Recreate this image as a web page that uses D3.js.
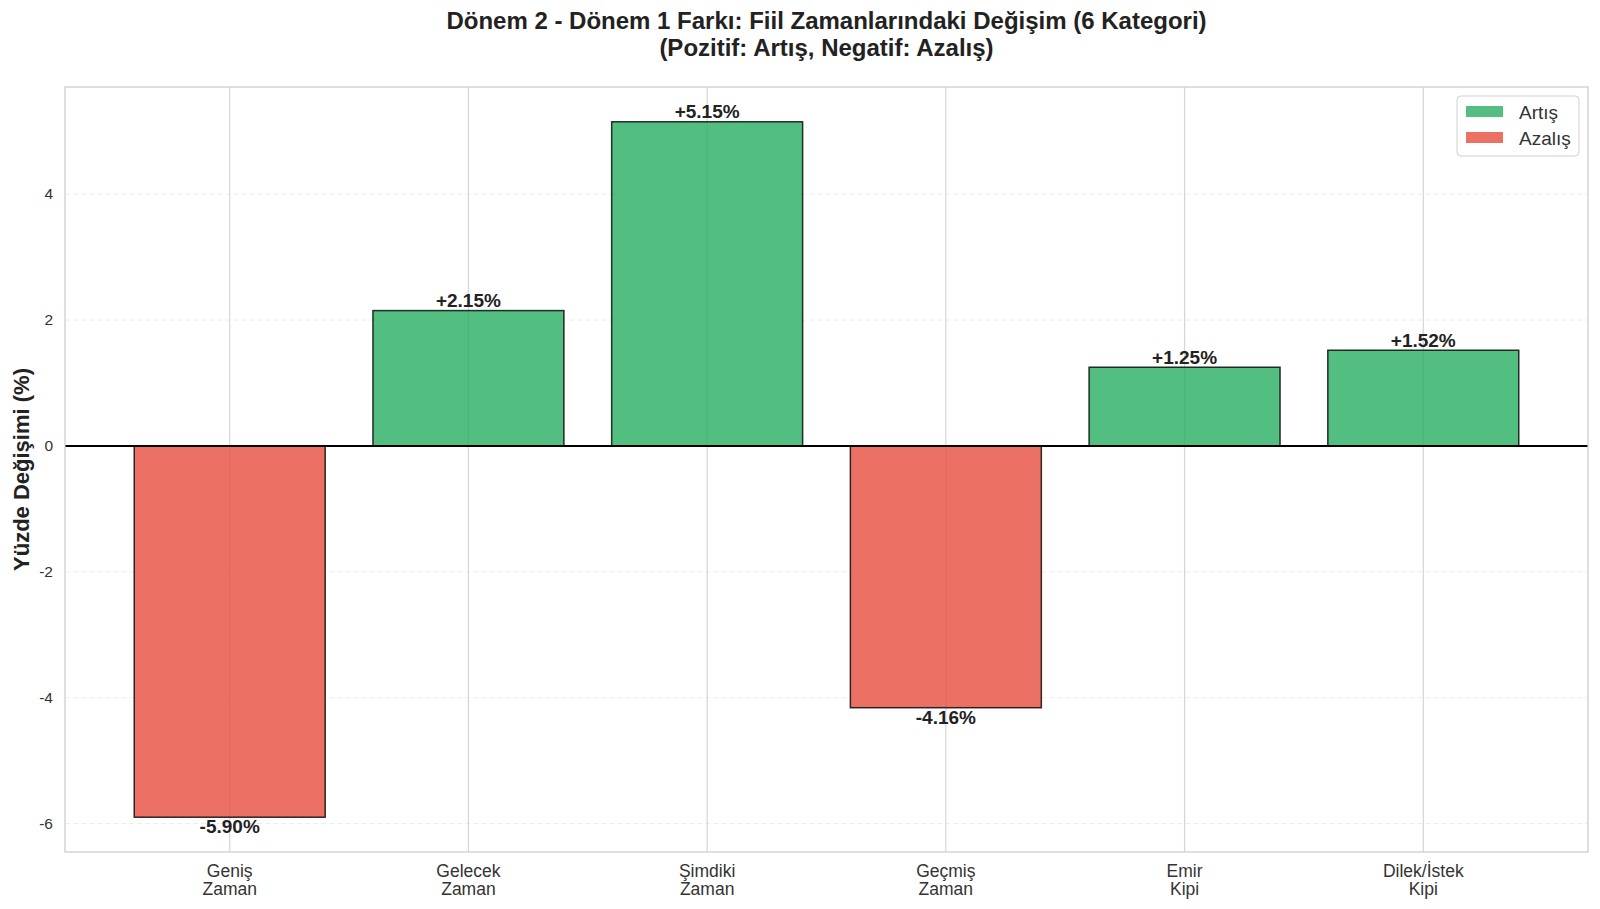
<!DOCTYPE html>
<html lang="tr">
<head>
<meta charset="UTF-8">
<title>Fiil Zamanları Farkı</title>
<script src="https://cdn.jsdelivr.net/npm/d3@7"></script>
<style>
  body { margin: 0; background: #fff; }
  svg { font-family: "Liberation Sans", Arial, sans-serif; }
</style>
</head>
<body>
<div id="chart"></div>
<script>
const categories = ["Geniş\nZaman", "Gelecek\nZaman", "Şimdiki\nZaman", "Geçmiş\nZaman", "Emir\nKipi", "Dilek/İstek\nKipi"];
const values = [-5.90, 2.15, 5.15, -4.16, 1.25, 1.52];
const yTicks = [-6, -4, -2, 0, 2, 4];
const legendItems = ["Artış", "Azalış"];

const w = 1600, h = 909;
const m = { left: 65, right: 12, top: 87, bottom: 57 };
const green = "#27ae60", red = "#e74c3c";

const svg = d3.select("#chart").append("svg")
    .attr("width", w).attr("height", h);

const x = d3.scaleBand()
    .domain(categories)
    .range([m.left, w - m.right])
    .paddingInner(0.2)
    .paddingOuter(0.29);

// matplotlib style 5% margins around data range
const lo = d3.min(values), hi = d3.max(values), pad = (hi - lo) * 0.05;
const y = d3.scaleLinear()
    .domain([lo - pad, hi + pad])
    .range([h - m.bottom, m.top]);

const plotW = w - m.left - m.right;
const center = d => x(d) + x.bandwidth() / 2;

// grid
svg.append("g").selectAll("line")
    .data(yTicks)
    .join("line")
    .attr("x1", m.left).attr("x2", w - m.right)
    .attr("y1", d => y(d)).attr("y2", d => y(d))
    .attr("stroke", "#cccccc").attr("stroke-opacity", 0.35)
    .attr("stroke-dasharray", "5,3");

svg.append("g").selectAll("line")
    .data(categories)
    .join("line")
    .attr("x1", center).attr("x2", center)
    .attr("y1", m.top).attr("y2", h - m.bottom)
    .attr("stroke", "#d5d5d5").attr("stroke-width", 1.2);

// bars
svg.append("g").selectAll("rect")
    .data(values)
    .join("rect")
    .attr("x", (d, i) => x(categories[i]))
    .attr("width", x.bandwidth())
    .attr("y", d => y(Math.max(0, d)))
    .attr("height", d => Math.abs(y(d) - y(0)))
    .attr("fill", d => d >= 0 ? green : red)
    .attr("fill-opacity", 0.8)
    .attr("stroke", "#000").attr("stroke-opacity", 0.8)
    .attr("stroke-width", 1.5);

// zero line
svg.append("line")
    .attr("x1", m.left).attr("x2", w - m.right)
    .attr("y1", y(0)).attr("y2", y(0))
    .attr("stroke", "#000").attr("stroke-width", 2);

// value labels
svg.append("g").selectAll("text")
    .data(values)
    .join("text")
    .attr("x", (d, i) => center(categories[i]))
    .attr("y", d => d >= 0 ? y(d) - 3.5 : y(d) + 16)
    .attr("text-anchor", "middle")
    .attr("font-size", 19).attr("font-weight", "bold")
    .attr("fill", "#222")
    .text(d => (d >= 0 ? "+" : "") + d.toFixed(2) + "%");

// spines
svg.append("rect")
    .attr("x", m.left).attr("y", m.top)
    .attr("width", plotW).attr("height", h - m.top - m.bottom)
    .attr("fill", "none").attr("stroke", "#cccccc").attr("stroke-width", 1.25);

// y ticks
svg.append("g").selectAll("text")
    .data(yTicks)
    .join("text")
    .attr("x", m.left - 12)
    .attr("y", d => y(d) + 5)
    .attr("text-anchor", "end")
    .attr("font-size", 15.5).attr("fill", "#333")
    .text(d => d);

// x ticks
const xl = svg.append("g").selectAll("text")
    .data(categories)
    .join("text")
    .attr("text-anchor", "middle")
    .attr("font-size", 17.5)
    .attr("fill", "#333");
xl.selectAll("tspan")
    .data(d => d.split("\n").map(t => ({ t, c: d })))
    .join("tspan")
    .attr("x", d => center(d.c))
    .attr("y", (d, i) => h - m.bottom + 25 + i * 18)
    .text(d => d.t);

// y label
svg.append("text")
    .attr("transform", `translate(29,${(m.top + h - m.bottom) / 2}) rotate(-90)`)
    .attr("text-anchor", "middle")
    .attr("font-size", 22).attr("font-weight", "bold")
    .attr("fill", "#222")
    .text("Yüzde Değişimi (%)");

// title
const tx = m.left + plotW / 2;
const titleLines = ["Dönem 2 - Dönem 1 Farkı: Fiil Zamanlarındaki Değişim (6 Kategori)", "(Pozitif: Artış, Negatif: Azalış)"];
svg.append("g").selectAll("text")
    .data(titleLines)
    .join("text")
    .attr("x", tx).attr("y", (d, i) => 29 + i * 27)
    .attr("text-anchor", "middle")
    .attr("font-size", 24).attr("font-weight", "bold")
    .attr("fill", "#222")
    .text(d => d);

// legend
const lg = svg.append("g").attr("transform", "translate(1457,96)");
lg.append("rect")
    .attr("width", 122).attr("height", 60).attr("rx", 4)
    .attr("fill", "#fff").attr("fill-opacity", 0.8)
    .attr("stroke", "#d0d0d0");
const li = lg.selectAll("g.item")
    .data(legendItems)
    .join("g").attr("class", "item")
    .attr("transform", (d, i) => `translate(9,${10 + i * 26})`);
li.append("rect")
    .attr("width", 37).attr("height", 11)
    .attr("fill", (d, i) => i === 0 ? green : red)
    .attr("fill-opacity", 0.8);
li.append("text")
    .attr("x", 53).attr("y", 13)
    .attr("font-size", 19)
    .attr("fill", "#333")
    .text(d => d);
</script>
</body>
</html>
